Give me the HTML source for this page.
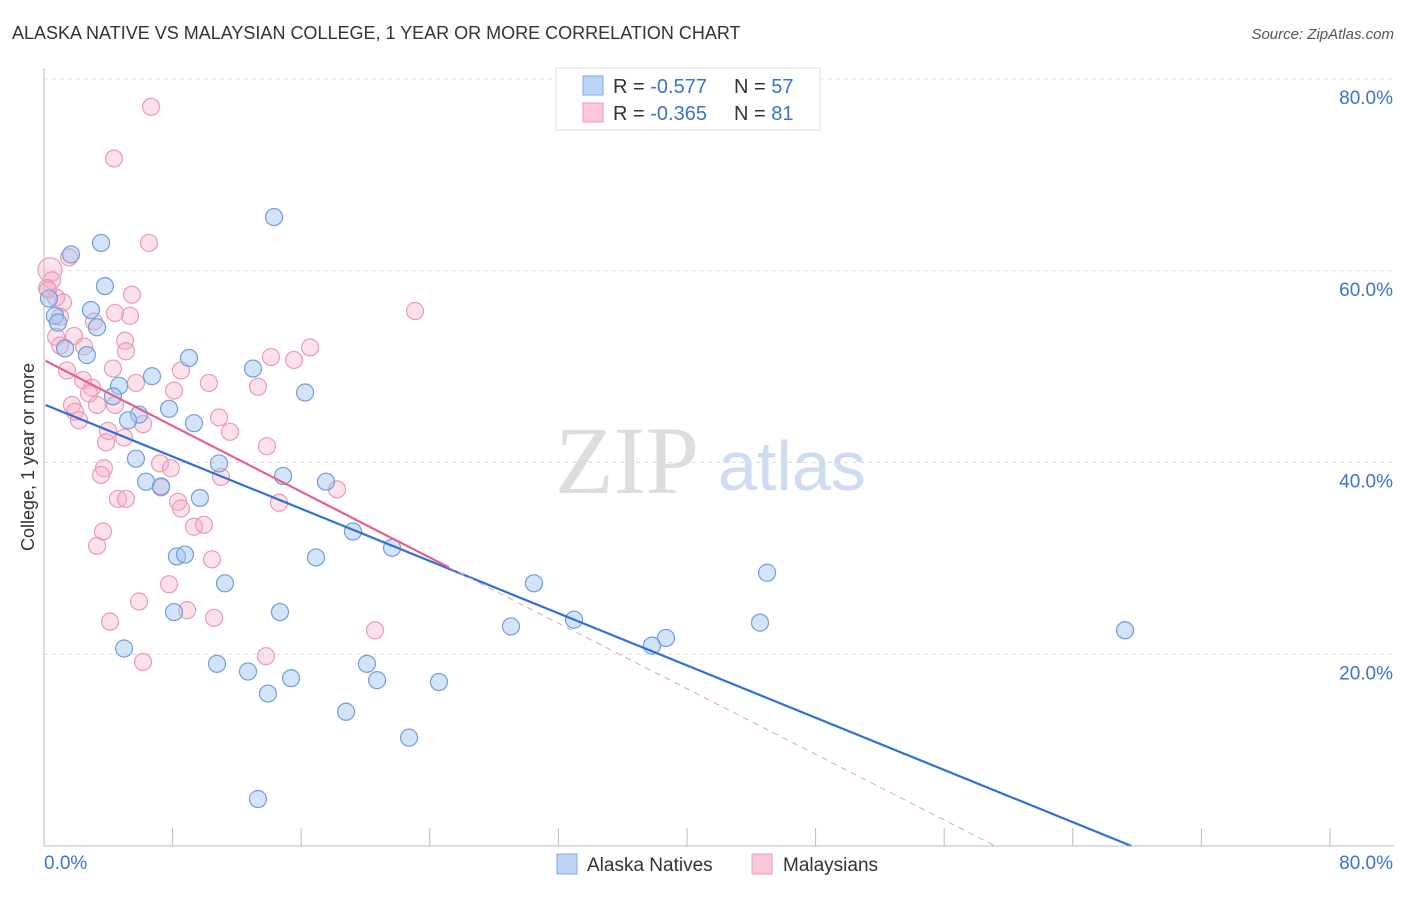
<!DOCTYPE html>
<html><head><meta charset="utf-8"><style>
body{margin:0;background:#fff;font-family:"Liberation Sans",sans-serif;}
svg text{font-family:"Liberation Sans",sans-serif;}
</style></head><body>
<svg id="chart" width="1406" height="892" xmlns="http://www.w3.org/2000/svg">
<text x="12" y="39" font-size="18" fill="#333">ALASKA NATIVE VS MALAYSIAN COLLEGE, 1 YEAR OR MORE CORRELATION CHART</text>
<text x="1394" y="39" font-size="15" fill="#555" text-anchor="end" font-style="italic">Source: ZipAtlas.com</text>
<g id="grid"></g>
<g>
<text x="555" y="493" font-size="96" fill="#ddd" font-family="Liberation Serif" style="font-family:'Liberation Serif',serif">ZIP</text>
<text x="718" y="490" font-size="70" fill="#cddcf0">atlas</text>
</g>
<text transform="translate(34,457) rotate(-90)" font-size="18" fill="#333" text-anchor="middle">College, 1 year or more</text>
<g id="points"></g>
<g id="lines"></g>
<g id="axes"></g>
<g>
<rect x="556" y="68" width="264" height="62" fill="#fff" stroke="#ddd"/>
<rect x="583" y="76" width="20" height="19" fill="#bcd4f5" stroke="#7fa9e6"/>
<rect x="583" y="103" width="20" height="19" fill="#fcc8d8" stroke="#eb9bb4"/>
<text x="613" y="93" font-size="20" fill="#333">R = <tspan fill="#3b73d0">-0.577</tspan></text>
<text x="734" y="93" font-size="20" fill="#333">N = <tspan fill="#3b73d0">57</tspan></text>
<text x="613" y="120" font-size="20" fill="#333">R = <tspan fill="#3b73d0">-0.365</tspan></text>
<text x="734" y="120" font-size="20" fill="#333">N = <tspan fill="#3b73d0"> 81</tspan></text>
</g>
<g>
<rect x="557" y="854" width="20" height="20" fill="#bcd4f5" stroke="#7fa9e6"/>
<text x="587" y="871" font-size="19" fill="#333">Alaska Natives</text>
<rect x="752" y="854" width="20" height="20" fill="#fcc8d8" stroke="#eb9bb4"/>
<text x="783" y="871" font-size="19" fill="#333">Malaysians</text>
</g>
</svg>
<script>
const xTicks=[0,8,16,24,32,40,48,56,64,72,80];
const yTicks=[20,40,60,80];
const yTickLabels=["20.0%","40.0%","60.0%","80.0%"];
const xTickLabels=["0.0%","80.0%"];
const alaskaX=[14.31,3.55,1.68,3.79,2.92,0.68,0.87,3.30,1.31,2.67,9.02,13.0,6.72,4.67,4.29,16.24,5.91,7.78,5.23,9.33,5.72,10.89,14.87,6.35,7.28,17.54,9.70,19.22,21.65,8.27,8.77,16.92,11.26,30.48,44.98,8.09,14.68,29.05,32.97,44.54,38.69,37.82,67.25,4.98,10.76,12.69,20.09,15.37,20.72,24.57,13.93,18.79,22.71,13.31,0.31];
const alaskaY=[65.6,62.9,61.7,58.4,55.9,55.3,54.6,54.1,51.9,51.2,50.9,49.8,49.0,48.0,46.9,47.3,45.0,45.6,44.4,44.1,40.4,39.9,38.6,38.0,37.5,38.0,36.3,32.8,31.1,30.2,30.4,30.1,27.4,27.4,28.5,24.4,24.4,22.9,23.6,23.3,21.7,20.9,22.5,20.6,19.0,18.2,19.0,17.5,17.3,17.1,15.9,14.0,11.3,4.9,57.1];
const malayX=[6.66,4.35,6.53,1.56,0.37,0.50,0.19,0.75,1.18,5.47,23.08,5.35,4.42,1.0,3.11,1.87,5.04,5.10,16.55,14.12,15.55,1.0,1.43,8.52,4.29,5.72,10.26,2.43,2.99,8.09,13.31,1.74,3.30,1.93,2.18,4.42,10.89,6.16,11.57,4.98,3.86,13.87,7.22,7.90,3.73,3.55,11.01,18.23,14.62,4.60,5.10,8.34,8.52,9.33,9.95,3.67,3.30,10.45,7.78,5.91,8.90,10.58,4.11,20.59,13.81,6.16,2.49,0.75,0.25,2.80,3.98,7.28];
const malayY=[77.1,71.7,62.9,61.4,60.1,59.0,58.2,57.2,56.7,57.5,55.8,55.3,55.6,55.2,54.7,53.2,52.7,51.6,52.0,51.0,50.7,52.2,49.6,49.6,49.8,48.3,48.3,48.6,47.8,47.5,47.9,46.0,46.0,45.3,44.4,46.0,44.7,44.0,43.2,42.6,42.1,41.7,39.9,39.4,39.4,38.7,38.5,37.2,35.8,36.2,36.2,35.9,35.2,33.3,33.5,32.8,31.3,29.9,27.3,25.5,24.6,23.8,23.4,22.5,19.8,19.2,52.1,53.1,58.0,47.2,43.3,37.4];
const alaskaTrend=[46.0,-0.68];
const malayTrend=[50.6,-0.855];
const malaySolidEnd=25.2;

const NS="http://www.w3.org/2000/svg";
const X0=44,X1=1330,Y0=846,Y80=79;
const sx=v=>X0+(v/80)*(X1-X0);
const sy=v=>Y0-(v/80)*(Y0-Y80);
function mk(tag,attrs,parent){const e=document.createElementNS(NS,tag);for(const k in attrs)e.setAttribute(k,attrs[k]);parent.appendChild(e);return e;}
const grid=document.getElementById('grid'),axes=document.getElementById('axes'),pts=document.getElementById('points'),lines=document.getElementById('lines');
yTicks.forEach((t,i)=>{
  const l=mk('line',{x1:X0,x2:1394,y1:sy(t),y2:sy(t),stroke:'#ddd','stroke-dasharray':'4,4'},grid);
  
  
  const tx=mk('text',{x:1393,y:sy(t)+25,'font-size':19,fill:'#3b73d0','text-anchor':'end'},axes);
  tx.textContent=yTickLabels[i];
  
  
});
const ax=mk('line',{x1:X0,x2:X0,y1:68,y2:Y0,stroke:'#bbb'},axes);


const bx=mk('line',{x1:X0,x2:1394,y1:Y0,y2:Y0,stroke:'#bbb'},axes);


xTicks.forEach(t=>{
  const l=mk('line',{x1:sx(t),x2:sx(t),y1:828,y2:Y0,stroke:'#bbb'},axes);
  
  
});
const xl0=mk('text',{x:44,y:869,'font-size':19,fill:'#3b73d0'},axes);xl0.textContent=xTickLabels[0];


const xl1=mk('text',{x:1393,y:869,'font-size':19,fill:'#3b73d0','text-anchor':'end'},axes);xl1.textContent=xTickLabels[1];



malayX.forEach((x,i)=>{
  const c=mk('circle',{cx:sx(x),cy:sy(malayY[i]),r:(i==4?12:8.5),fill:'rgba(246,170,196,0.35)',stroke:'#eb9bb4','stroke-width':1.2},pts);
  
  
});
alaskaX.forEach((x,i)=>{
  const c=mk('circle',{cx:sx(x),cy:sy(alaskaY[i]),r:8.5,fill:'rgba(160,196,240,0.45)',stroke:'#6f9de0','stroke-width':1.2},pts);
  
  
});
const bxEnd=-alaskaTrend[0]/alaskaTrend[1];
const bl=mk('line',{x1:sx(0.1),y1:sy(alaskaTrend[0]),x2:sx(bxEnd),y2:sy(0),stroke:'#2f6fd6','stroke-width':2.2},lines);


const pEnd=-malayTrend[0]/malayTrend[1];
const pl=mk('line',{x1:sx(0.1),y1:sy(malayTrend[0]),x2:sx(malaySolidEnd),y2:sy(malayTrend[0]+malayTrend[1]*malaySolidEnd),stroke:'#e8608a','stroke-width':2.2},lines);


const pd=mk('line',{x1:sx(malaySolidEnd),y1:sy(malayTrend[0]+malayTrend[1]*malaySolidEnd),x2:sx(pEnd),y2:sy(0),stroke:'#e8a0b6','stroke-width':1,'stroke-dasharray':'6,5'},lines);


</script>
</body></html>
